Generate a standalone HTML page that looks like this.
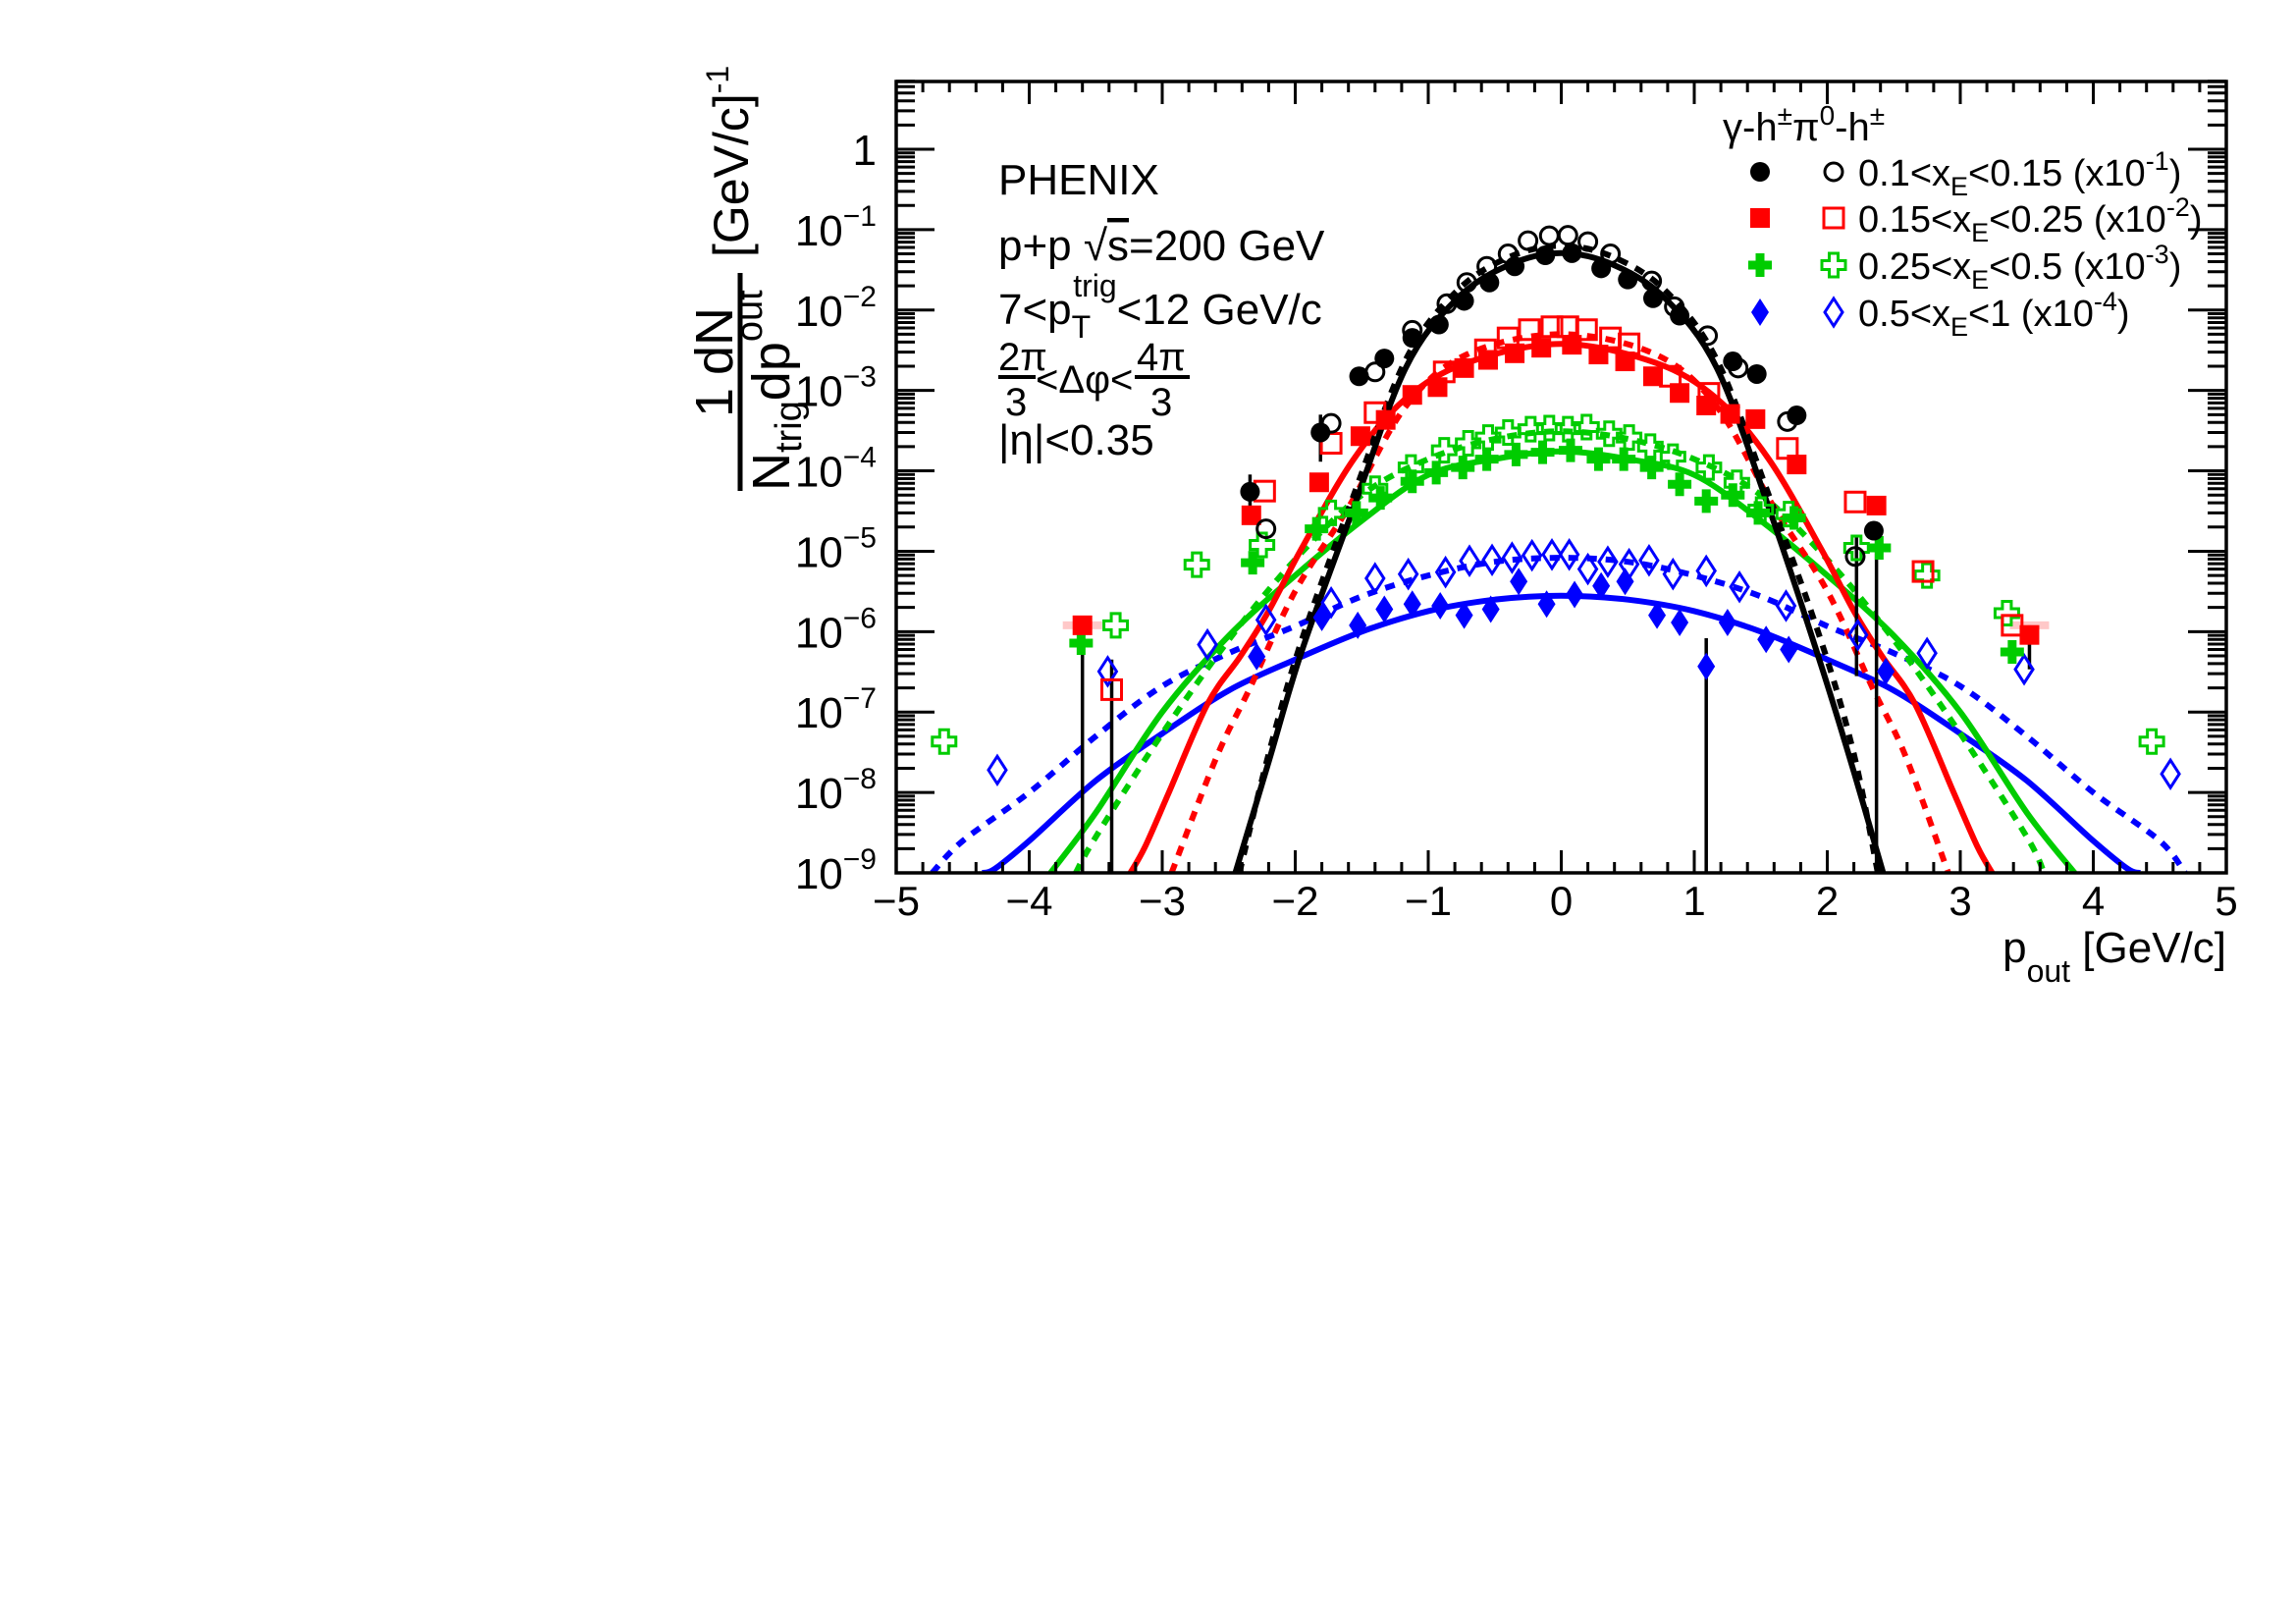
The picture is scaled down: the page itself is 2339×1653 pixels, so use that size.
<!DOCTYPE html>
<html>
<head>
<meta charset="utf-8">
<style>
html,body{margin:0;padding:0;background:#fff;}
svg{display:block;}
text{font-family:"Liberation Sans","DejaVu Sans",sans-serif;fill:#000;}
</style>
</head>
<body>
<svg id="chart" width="2339" height="1653" viewBox="0 0 2339 1653" xmlns="http://www.w3.org/2000/svg">
<defs><clipPath id="plotclip"><rect x="913" y="83" width="1355" height="806"/></clipPath></defs>
<rect x="0" y="0" width="2339" height="1653" fill="#fff"/>
<g id="curves" clip-path="url(#plotclip)"></g>
<g id="errs" clip-path="url(#plotclip)"></g>
<g id="marks" clip-path="url(#plotclip)"></g>
<g id="axes"></g>

<!-- y axis title -->
<g>
  <text transform="translate(762,262) rotate(-90)" font-size="50">[GeV/c]<tspan font-size="32" dy="-20">-1</tspan></text>
  <text transform="translate(746,425) rotate(-90)" font-size="54">1</text>
  <text transform="translate(746,382) rotate(-90)" font-size="54">dN</text>
  <line x1="754" y1="278" x2="754" y2="500" stroke="#000" stroke-width="5"/>
  <text transform="translate(804,500) rotate(-90)" font-size="54">N<tspan font-size="38" dy="12">trig</tspan><tspan font-size="54" dy="-12">dp</tspan><tspan font-size="38" dy="-28">out</tspan></text>
</g>

<!-- x axis title -->
<text x="2268" y="980" font-size="44" text-anchor="end">p<tspan font-size="32" dy="20">out</tspan><tspan font-size="44" dy="-20"> [GeV/c]</tspan></text>

<!-- annotation block -->
<g>
  <text x="1017" y="198" font-size="44">PHENIX</text>
  <text x="1017" y="265" font-size="44">p+p <tspan>√</tspan><tspan text-decoration="overline">s</tspan>=200 GeV</text>
  <text x="1017" y="330" font-size="44">7&lt;p<tspan font-size="32" dy="14">T</tspan><tspan font-size="32" dx="-18" dy="-42">trig</tspan><tspan font-size="44" dy="28">&lt;12 GeV/c</tspan></text>
  <g>
    <text x="1017" y="377" font-size="40">2π</text>
    <line x1="1017" y1="384" x2="1055" y2="384" stroke="#000" stroke-width="4"/>
    <text x="1024" y="423" font-size="40">3</text>
    <text x="1055" y="400" font-size="40">&lt;Δφ&lt;</text>
    <text x="1158" y="377" font-size="40">4π</text>
    <line x1="1156" y1="384" x2="1212" y2="384" stroke="#000" stroke-width="4"/>
    <text x="1172" y="423" font-size="40">3</text>
  </g>
  <text x="1017" y="463" font-size="44">|η|&lt;0.35</text>
</g>

<!-- legend -->
<g id="legend">
  <text x="1755" y="143" font-size="40">γ-h<tspan font-size="28" dy="-16">±</tspan><tspan font-size="40" dy="16">π</tspan><tspan font-size="28" dy="-16">0</tspan><tspan font-size="40" dy="16">-h</tspan><tspan font-size="28" dy="-16">±</tspan></text>
</g>
</svg>
<script>
// ---- data arrays ----
const blkFillX = [-2.34,-1.81,-1.52,-1.33,-1.12,-0.92,-0.73,-0.54,-0.35,-0.12,0.08,0.30,0.50,0.69,0.89,1.29,1.47,1.77,2.35];
const blkFillY = [5.5e-5,3e-4,1.5e-3,2.5e-3,4.5e-3,6.6e-3,1.3e-2,2.2e-2,3.5e-2,4.8e-2,5.1e-2,3.3e-2,2.4e-2,1.4e-2,8.5e-3,2.3e-3,1.6e-3,4.9e-4,1.8e-5];
const blkOpenX = [-2.22,-1.73,-1.40,-1.12,-0.86,-0.71,-0.56,-0.40,-0.25,-0.09,0.05,0.20,0.37,0.68,0.85,1.10,1.33,1.70,2.21];
const blkOpenY = [1.9e-5,3.9e-4,1.7e-3,5.6e-3,1.2e-2,2.2e-2,3.5e-2,5e-2,7.3e-2,8.4e-2,8.5e-2,7.1e-2,5e-2,2.3e-2,1.1e-2,4.8e-3,1.9e-3,4.1e-4,8.6e-6];
const redFillX = [-3.60,-2.33,-1.82,-1.51,-1.32,-1.12,-0.93,-0.73,-0.55,-0.35,-0.15,0.08,0.28,0.48,0.69,0.89,1.09,1.27,1.46,1.77,2.37,3.52];
const redFillY = [1.2e-6,2.8e-5,7.2e-5,2.7e-4,4.3e-4,8.8e-4,1.1e-3,1.9e-3,2.4e-3,2.9e-3,3.4e-3,3.7e-3,2.8e-3,2.3e-3,1.5e-3,9.3e-4,6.5e-4,5.1e-4,4.4e-4,1.2e-4,3.7e-5,9.1e-7];
const redOpenX = [-3.38,-2.23,-1.73,-1.40,-0.88,-0.57,-0.40,-0.24,-0.07,0.05,0.19,0.37,0.51,0.82,1.11,1.70,2.21,2.72,3.39];
const redOpenY = [1.9e-7,5.6e-5,2.2e-4,5.3e-4,1.7e-3,3.2e-3,4.5e-3,5.7e-3,6.2e-3,6.2e-3,5.7e-3,4.5e-3,3.8e-3,1.5e-3,9.2e-4,1.9e-4,4.1e-5,5.6e-6,1.2e-6];
const grnFillX = [-3.61,-2.32,-1.84,-1.54,-1.36,-1.12,-0.94,-0.74,-0.56,-0.34,-0.14,0.07,0.28,0.47,0.68,0.89,1.09,1.29,1.48,1.75,2.39,3.39];
const grnFillY = [7.2e-7,7.2e-6,1.9e-5,3e-5,4.6e-5,7.4e-5,9.5e-5,1.1e-4,1.4e-4,1.6e-4,1.7e-4,1.8e-4,1.4e-4,1.4e-4,1.1e-4,6.8e-5,4.2e-5,5e-5,3e-5,2.6e-5,1.1e-5,5.6e-7];
const grnOpenX = [-4.64,-3.35,-2.74,-2.25,-1.73,-1.40,-1.13,-0.88,-0.70,-0.55,-0.40,-0.23,-0.09,0.05,0.19,0.36,0.51,0.67,0.84,1.11,1.32,1.50,1.71,2.22,2.75,3.35,4.44];
const grnOpenY = [4.3e-8,1.2e-6,6.8e-6,1.2e-5,3e-5,6e-5,1.1e-4,1.8e-4,2.2e-4,2.6e-4,3e-4,3.3e-4,3.4e-4,3.3e-4,3.5e-4,2.9e-4,2.6e-4,2e-4,1.5e-4,1.1e-4,7.1e-5,3.3e-5,2.9e-5,1.1e-5,5e-6,1.7e-6,4.3e-8];
const bluFillX = [-2.29,-1.80,-1.53,-1.33,-1.12,-0.91,-0.73,-0.53,-0.32,-0.11,0.10,0.30,0.48,0.72,0.89,1.09,1.25,1.54,1.71,2.44];
const bluFillY = [4.9e-7,1.5e-6,1.2e-6,1.9e-6,2.2e-6,2.1e-6,1.6e-6,1.9e-6,4.2e-6,2.2e-6,2.9e-6,3.7e-6,4.2e-6,1.6e-6,1.3e-6,3.7e-7,1.3e-6,8e-7,6e-7,3.2e-7];
const bluOpenX = [-4.24,-3.41,-2.66,-2.22,-1.73,-1.40,-1.15,-0.87,-0.69,-0.52,-0.37,-0.22,-0.07,0.06,0.20,0.35,0.51,0.66,0.84,1.09,1.34,1.69,2.23,2.75,3.48,4.58];
const bluOpenY = [1.9e-8,3.2e-7,6.9e-7,1.4e-6,2.3e-6,4.6e-6,5.2e-6,5.5e-6,7.6e-6,7.8e-6,8.3e-6,8.9e-6,9.1e-6,9.1e-6,6e-6,7.4e-6,6.9e-6,7.7e-6,5.2e-6,5.7e-6,3.6e-6,2.1e-6,9.1e-7,5.4e-7,3.4e-7,1.7e-8];

// fit curves (sampled from figure)
const blkSolidX = [-2.45,-2.2,-1.95,-1.56,-1.17,-0.79,-0.4,0,0.4,0.79,1.17,1.56,1.95,2.2,2.42];
const blkSolidY = [1e-9,2.4e-8,5.8e-7,3.5e-5,1.9e-3,1.35e-2,3.6e-2,5.1e-2,3.6e-2,1.35e-2,1.9e-3,3.5e-5,4e-7,1.8e-8,1e-9];
const blkDotX = [-2.42,-2.2,-1.95,-1.56,-1.17,-0.79,-0.4,0,0.4,0.79,1.17,1.56,1.95,2.2,2.38];
const blkDotY = [1e-9,3e-8,8e-7,5e-5,2.4e-3,1.7e-2,4.5e-2,6.3e-2,4.5e-2,1.7e-2,2.4e-3,5e-5,8e-7,3e-8,1e-9];
const redSolidX = [-3.24,-3.13,-2.95,-2.66,-2.41,-2.2,-1.95,-1.56,-1.17,-0.71,0,0.71,1.17,1.56,1.95,2.2,2.41,2.66,2.95,3.13,3.24];
const redSolidY = [1e-9,2.1e-9,1e-8,1.26e-7,5e-7,1.8e-6,1.1e-5,1.4e-4,7.9e-4,2.2e-3,3.8e-3,2.2e-3,7.9e-4,1.4e-4,1.1e-5,1.8e-6,5e-7,1.26e-7,1e-8,2.1e-9,1e-9];
const redDotX = [-2.93,-2.59,-2.34,-2.0,-1.6,-1.17,-0.71,0,0.71,1.17,1.6,2.0,2.34,2.59,2.91];
const redDotY = [1e-9,2.8e-8,2e-7,3.2e-6,3.5e-5,6.3e-4,2.8e-3,5e-3,2.8e-3,6.3e-4,3.5e-5,3.2e-6,2e-7,2.8e-8,1e-9];
const grnSolidX = [-3.84,-3.5,-3,-2.5,-2,-1.5,-1,-0.5,0,0.5,1,1.5,2,2.5,3,3.5,3.86];
const grnSolidY = [1e-9,5.6e-9,1e-7,8.9e-7,5e-6,2.4e-5,8.9e-5,1.4e-4,1.75e-4,1.4e-4,8.9e-5,2.4e-5,5e-6,8.9e-7,1e-7,5.6e-9,1e-9];
const grnDotX = [-3.65,-3.5,-3,-2.5,-2,-1.5,-1,-0.5,0,0.5,1,1.5,2,2.5,3,3.5,3.63];
const grnDotY = [1e-9,2.8e-9,5.4e-8,7.9e-7,7.9e-6,5e-5,1.4e-4,2.5e-4,3.1e-4,2.5e-4,1.4e-4,5e-5,7.9e-6,7.9e-7,5.4e-8,2.8e-9,1e-9];
const bluSolidX = [-4.35,-4.26,-4,-3.5,-3,-2.5,-2,-1.5,-1,-0.5,0,0.5,1,1.5,2,2.5,3,3.5,4,4.26,4.35];
const bluSolidY = [1e-9,1.12e-9,2.5e-9,1.4e-8,5.4e-8,1.86e-7,4.5e-7,1e-6,1.8e-6,2.5e-6,2.8e-6,2.5e-6,1.8e-6,1e-6,4.5e-7,1.86e-7,5.4e-8,1.4e-8,2.5e-9,1.12e-9,1e-9];
const bluDotX = [-4.73,-4.5,-4,-3.5,-3,-2.5,-2,-1.5,-1,-0.5,0,0.5,1,1.5,2,2.5,3,3.5,4,4.5,4.69];
const bluDotY = [1e-9,2.5e-9,1e-8,5e-8,2.1e-7,5.4e-7,1.17e-6,2.75e-6,5e-6,7.4e-6,8.3e-6,7.4e-6,5e-6,2.75e-6,1.17e-6,5.4e-7,2.1e-7,5e-8,1e-8,2.5e-9,1e-9];

// error bars
const errX = [-3.60,-3.38,-2.34,-1.81,1.09,2.22,2.37,3.52];
const errLo = [1e-9,1e-9,3e-5,1.3e-4,1e-9,2.8e-7,1e-9,3.4e-7];
const errHi = [1.2e-6,4.5e-7,9e-5,5e-4,8.3e-7,1.5e-5,2.1e-5,1.2e-6];

// axis ticks
const xTicks = [-5,-4,-3,-2,-1,0,1,2,3,4,5];
const xTickLabels = ["\u22125","\u22124","\u22123","\u22122","\u22121","0","1","2","3","4","5"];
const yDecades = [-9,-8,-7,-6,-5,-4,-3,-2,-1,0];
const yTickExp = ["\u22129","\u22128","\u22127","\u22126","\u22125","\u22124","\u22123","\u22122","\u22121",""];

// ---- scales ----
const PX0=913, PX1=2268, PY0=83, PY1=889;
const DEC=(889-152)/9;
function X(v){return PX0+(v+5)*(PX1-PX0)/10;}
function Y(v){return PY1-(Math.log10(v)+9)*DEC;}
const NS="http://www.w3.org/2000/svg";
function mk(tag,attrs,parent){const e=document.createElementNS(NS,tag);for(const k in attrs)e.setAttribute(k,attrs[k]);parent.appendChild(e);return e;}

// ---- curves ----
const curveG=document.getElementById('curves');
function smoothPath(xs,ys){
  const p=xs.map((x,i)=>[X(x),Y(ys[i])]);
  let d="M"+p[0][0].toFixed(1)+","+p[0][1].toFixed(1);
  for(let i=0;i<p.length-1;i++){
    const p0=p[i-1]||p[i],p1=p[i],p2=p[i+1],p3=p[i+2]||p[i+1];
    const c1x=p1[0]+(p2[0]-p0[0])/6,c1y=p1[1]+(p2[1]-p0[1])/6;
    const c2x=p2[0]-(p3[0]-p1[0])/6,c2y=p2[1]-(p3[1]-p1[1])/6;
    d+=" C"+c1x.toFixed(1)+","+c1y.toFixed(1)+" "+c2x.toFixed(1)+","+c2y.toFixed(1)+" "+p2[0].toFixed(1)+","+p2[1].toFixed(1);
  }
  return d;
}
function curve(xs,ys,color,dotted,name){
  const e=mk('path',{d:smoothPath(xs,ys),fill:'none',stroke:color,'stroke-width':6,'stroke-dasharray':dotted?'10 9':'none'},curveG);
  
  
}
curve(bluDotX,bluDotY,'#0000ff',true,'blue-dotted-fit');
curve(bluSolidX,bluSolidY,'#0000ff',false,'blue-solid-fit');
curve(grnDotX,grnDotY,'#00cc00',true,'green-dotted-fit');
curve(grnSolidX,grnSolidY,'#00cc00',false,'green-solid-fit');
curve(redDotX,redDotY,'#ff0000',true,'red-dotted-fit');
curve(redSolidX,redSolidY,'#ff0000',false,'red-solid-fit');
curve(blkSolidX,blkSolidY,'#000000',false,'black-solid-fit');
curve(blkDotX,blkDotY,'#000000',true,'black-dotted-fit');

// ---- error bars ----
const errG=document.getElementById('errs');
errX.forEach((x,i)=>{
  const e=mk('line',{x1:X(x),x2:X(x),y1:Y(errLo[i]),y2:Y(errHi[i]),stroke:'#000','stroke-width':3.5},errG);
  
  
});
[-3.60,3.52].forEach(x=>{
  const e=mk('rect',{x:X(x)-20,y:Y(1.2e-6)-4,width:40,height:8,fill:'#ffb0b0',opacity:0.7},errG);
  
  
});

// ---- markers ----
function marker(parent,type,cx,cy,color,filled){
  let e;
  const fill=filled?color:'none', sw=filled?0:3;
  if(type==='circle') e=mk('circle',{cx:cx,cy:cy,r:filled?10:9,fill:fill,stroke:color,'stroke-width':sw},parent);
  else if(type==='square') e=mk('rect',{x:cx-10,y:cy-10,width:20,height:20,fill:fill,stroke:color,'stroke-width':sw},parent);
  else if(type==='cross'){
    const a=12,t=4.5;
    const pts=[[-t,-a],[t,-a],[t,-t],[a,-t],[a,t],[t,t],[t,a],[-t,a],[-t,t],[-a,t],[-a,-t],[-t,-t]].map(p=>(cx+p[0])+","+(cy+p[1])).join(" ");
    e=mk('polygon',{points:pts,fill:fill,stroke:color,'stroke-width':sw},parent);
  } else {
    const w=9,h=14;
    e=mk('polygon',{points:`${cx},${cy-h} ${cx+w},${cy} ${cx},${cy+h} ${cx-w},${cy}`,fill:fill,stroke:color,'stroke-width':sw},parent);
  }
  return e;
}
const markG=document.getElementById('marks');
function series(xs,ys,type,color,filled,name){
  xs.forEach((x,i)=>{
    const e=marker(markG,type,X(x),Y(ys[i]),color,filled);
    
    
  });
}
series(bluOpenX,bluOpenY,'diamond','#0000ff',false,'blue-open-point');
series(bluFillX,bluFillY,'diamond','#0000ff',true,'blue-filled-point');
series(grnOpenX,grnOpenY,'cross','#00cc00',false,'green-open-point');
series(grnFillX,grnFillY,'cross','#00cc00',true,'green-filled-point');
series(redOpenX,redOpenY,'square','#ff0000',false,'red-open-point');
series(redFillX,redFillY,'square','#ff0000',true,'red-filled-point');
series(blkOpenX,blkOpenY,'circle','#000000',false,'black-open-point');
series(blkFillX,blkFillY,'circle','#000000',true,'black-filled-point');

// ---- axes ----
const ax=document.getElementById('axes');
const frame=mk('rect',{x:PX0,y:PY0,width:PX1-PX0,height:PY1-PY0,fill:'none',stroke:'#000','stroke-width':3.5},ax);


let tk="";
for(let i=0;i<=50;i++){
  const v=-5+i*0.2, x=X(v), L=(i%5===0)?23:11;
  tk+=`M${x},${PY1}v${-L}M${x},${PY0}v${L}`;
}
for(let d=-9;d<=0;d++){
  for(let m=1;m<=9;m++){
    const v=m*Math.pow(10,d); const y=Y(v);
    if(y<PY0-0.5) continue;
    const L=(m===1)?39:19;
    tk+=`M${PX0},${y}h${L}M${PX1},${y}h${-L}`;
  }
}
const ticks=mk('path',{d:tk,stroke:'#000','stroke-width':3,fill:'none'},ax);


xTicks.forEach((v,i)=>{
  const t=mk('text',{x:X(v),y:932,'font-size':42,'text-anchor':'middle'},ax);
  t.textContent=xTickLabels[i];
  
  
});
yDecades.forEach((d,i)=>{
  const y=Y(Math.pow(10,d));
  const t=mk('text',{x:893,y:y+16,'font-size':44,'text-anchor':'end'},ax);
  
  
  if(yTickExp[i]===""){t.textContent="1";}
  else{
    const a=mk('tspan',{},t);a.textContent="10";
    const b=mk('tspan',{'font-size':30,dy:-20},t);b.textContent=yTickExp[i];
  }
});

// ---- legend ----
const lg=document.getElementById('legend');
const legTypes=['circle','square','cross','diamond'];
const legColors=['#000000','#ff0000','#00cc00','#0000ff'];
const legRange=[['0.1','0.15'],['0.15','0.25'],['0.25','0.5'],['0.5','1']];
const legScale=['-1','-2','-3','-4'];
const legY=[175,222,270,318];
legTypes.forEach((tp,i)=>{
  const a=marker(lg,tp,1793,legY[i],legColors[i],true);
  
  
  const b=marker(lg,tp,1868,legY[i],legColors[i],false);
  
  
  const t=mk('text',{x:1893,y:legY[i]+14,'font-size':38},lg);
  
  
  const s1=mk('tspan',{},t);s1.textContent=legRange[i][0]+"<x";
  const s2=mk('tspan',{'font-size':27,dy:10},t);s2.textContent="E";
  const s3=mk('tspan',{dy:-10},t);s3.textContent="<"+legRange[i][1]+" (x10";
  const s4=mk('tspan',{'font-size':27,dy:-16},t);s4.textContent=legScale[i];
  const s5=mk('tspan',{dy:16},t);s5.textContent=")";
});
</script>
</body>
</html>
